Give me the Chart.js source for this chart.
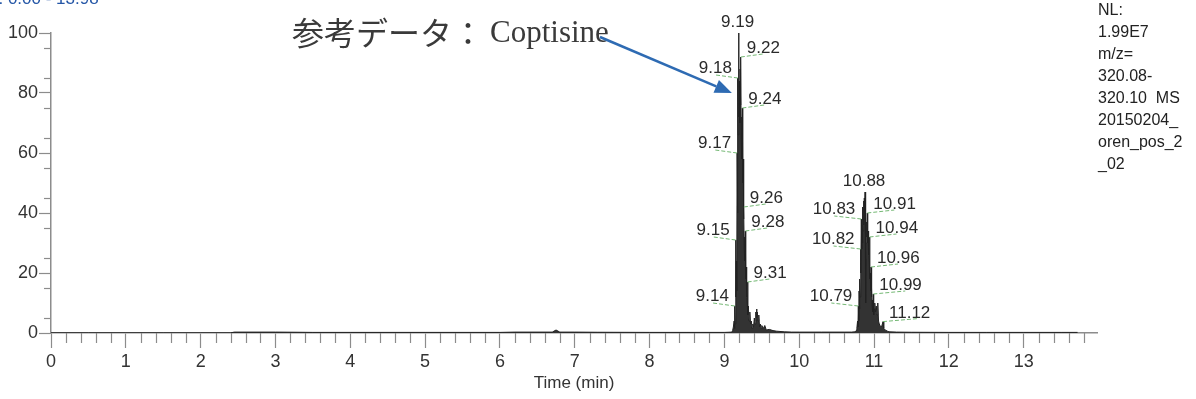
<!DOCTYPE html>
<html>
<head>
<meta charset="utf-8">
<script src="https://cdn.jsdelivr.net/npm/chart.js@4.4.1/dist/chart.umd.min.js"></script>
<style>
  html, body { margin: 0; padding: 0; background: #ffffff; overflow: hidden; }
  canvas { display: block; }
</style>
</head>
<body>
<canvas id="c" width="1196" height="399"></canvas>
<script>
// ---------------- data ----------------
const retentionTimes = [
  0.00, 0.50, 1.00, 1.50, 2.00, 2.40, 2.45, 3.00, 3.30, 3.50, 4.00, 5.00, 6.00, 6.20, 6.70, 6.75, 6.80, 7.00, 7.30, 8.00, 8.50, 9.00, 9.05,
  9.10, 9.11, 9.12, 9.13, 9.135, 9.14, 9.145, 9.15, 9.155, 9.16, 9.165, 9.17, 9.175, 9.18, 9.185, 9.19, 9.195,
  9.20, 9.205, 9.21, 9.215, 9.22, 9.225, 9.23, 9.235, 9.24, 9.245, 9.25, 9.255, 9.26, 9.265, 9.27, 9.275, 9.28,
  9.285, 9.29, 9.295, 9.30, 9.305, 9.31, 9.315, 9.32, 9.33, 9.34, 9.35, 9.36, 9.37, 9.38, 9.39, 9.40, 9.41, 9.42,
  9.425, 9.43, 9.435, 9.44, 9.45, 9.46, 9.47, 9.48, 9.49, 9.50, 9.52, 9.54, 9.56, 9.60, 9.65, 9.70, 9.80, 9.90,
  10.00, 10.30, 10.60, 10.70, 10.75, 10.76, 10.77, 10.78, 10.785, 10.79, 10.795, 10.80, 10.805, 10.81, 10.815,
  10.82, 10.825, 10.83, 10.835, 10.84, 10.845, 10.85, 10.855, 10.86, 10.865, 10.87, 10.875, 10.88, 10.885, 10.89,
  10.895, 10.90, 10.905, 10.91, 10.915, 10.92, 10.925, 10.93, 10.935, 10.94, 10.945, 10.95, 10.955, 10.96, 10.965,
  10.97, 10.975, 10.98, 10.985, 10.99, 10.995, 11.00, 11.01, 11.02, 11.03, 11.04, 11.05, 11.06, 11.07, 11.08,
  11.10, 11.12, 11.13, 11.15, 11.18, 11.20, 11.30, 11.50, 12.00, 12.50, 13.00, 13.50, 13.72
];
const relativeAbundance = [
  0.05, 0.05, 0.05, 0.05, 0.05, 0.05, 0.3, 0.3, 0.25, 0.2, 0.2, 0.2, 0.2, 0.3, 0.3, 1.0, 0.3, 0.3, 0.25, 0.2, 0.2, 0.2, 0.25,
  0.3, 0.8, 2, 4, 1.5, 9, 3, 31, 12, 24, 14, 60, 40, 85, 66, 100, 72,
  84, 70, 88, 76, 92, 64, 72, 58, 75, 50, 58, 38, 42, 28, 32, 24, 34,
  18, 22, 12, 14, 10, 17, 6, 9, 4, 7, 3, 4, 1.5, 3, 2, 5, 3, 7,
  4, 8, 5, 7, 4, 6, 2, 3, 1.5, 2.5, 1.5, 2.5, 1, 1.2, 0.8, 0.6, 0.4, 0.3,
  0.3, 0.3, 0.3, 0.3, 0.4, 0.8, 1.5, 4, 2, 9, 4, 14, 8, 18, 12,
  28, 20, 38, 28, 36, 30, 42, 34, 44, 36, 45, 40, 47, 14, 10,
  30, 37, 32, 40, 30, 34, 26, 29, 24, 32, 18, 20, 14, 22, 12,
  15, 9, 11, 7, 13, 6, 8, 10, 7, 9, 6, 10, 4, 3, 2.5,
  2, 3.8, 1.5, 1, 0.6, 0.4, 0.3, 0.25, 0.2, 0.2, 0.2, 0.2, 0.2
];
const peakLabelTimes = [9.19, 9.22, 9.18, 9.24, 9.17, 9.26, 9.15, 9.28, 9.31, 9.14,
                        10.88, 10.83, 10.91, 10.82, 10.94, 10.96, 10.99, 10.79, 11.12];
const xTickLabels = ['0','1','2','3','4','5','6','7','8','9','10','11','12','13'];
const yTickLabels = ['0','20','40','60','80','100'];
const infoLines = ['NL:', '1.99E7', 'm/z=', '320.08-', '320.10  MS', '20150204_', 'oren_pos_2', '_02'];
const headerText = 'RT: 0.00 - 13.98';
const annotationJa = '参考データ：';
const annotationEn = 'Coptisine';
const annotationTarget = [9.10, 80];

// ---------------- label layout (style, not data) ----------------
const labelSide = ['T','R','L','R','L','R','L','R','R','L',
                   'T','L','R','L','R','R','R','L','R'];
const labelLeader = [0,22,22,22,22,22,22,22,22,22,
                     0,27,27,27,27,27,32,27,35];

const FONT = '"Liberation Sans", Arial, sans-serif';
const points = retentionTimes.map((t, i) => ({ x: t, y: relativeAbundance[i] }));

function abundanceAt(t) {
  let best = 0, bd = 1e9;
  retentionTimes.forEach((rt, i) => { const d = Math.abs(rt - t); if (d < bd) { bd = d; best = i; } });
  return relativeAbundance[best];
}
const near = (v, arr) => arr.some(s => Math.abs(v - Number(s)) < 1e-6);

const overlay = {
  id: 'overlay',
  afterDraw(chart) {
    const ctx = chart.ctx, xs = chart.scales.x, ys = chart.scales.y;
    const bottom = ys.getPixelForValue(0), left = xs.getPixelForValue(0);
    ctx.save();
    // minor ticks
    ctx.strokeStyle = '#8c8c8c'; ctx.lineWidth = 1.2;
    for (let k = 1; k * 0.2 <= 13.9; k++) {
      const v = +(k * 0.2).toFixed(1);
      if (Math.abs(v - Math.round(v)) < 1e-6) continue;
      const px = Math.round(xs.getPixelForValue(v)) + 0.5;
      ctx.beginPath(); ctx.moveTo(px, bottom); ctx.lineTo(px, bottom + 10); ctx.stroke();
    }
    for (let v = 5; v < 100; v += 10) {
      const py = Math.round(ys.getPixelForValue(v)) + 0.5;
      ctx.beginPath(); ctx.moveTo(left, py); ctx.lineTo(left - 7, py); ctx.stroke();
    }
    // peak labels
    ctx.font = '17px ' + FONT;
    peakLabelTimes.forEach((t, i) => {
      const px = xs.getPixelForValue(t), py = ys.getPixelForValue(abundanceAt(t));
      const txt = t.toFixed(2), side = labelSide[i], len = labelLeader[i];
      ctx.fillStyle = '#2a2a2a';
      if (side === 'T') {
        ctx.textAlign = 'center'; ctx.textBaseline = 'alphabetic';
        ctx.fillText(txt, px - 1, py - 6);
        return;
      }
      const dir = side === 'R' ? 1 : -1;
      ctx.strokeStyle = '#74b874'; ctx.lineWidth = 1; ctx.setLineDash([4, 2]);
      ctx.beginPath(); ctx.moveTo(px, py); ctx.lineTo(px + dir * len, py - 3); ctx.stroke();
      ctx.setLineDash([]);
      ctx.textBaseline = 'alphabetic';
      if (side === 'R') { ctx.textAlign = 'left'; ctx.fillText(txt, px + 6, py - 4); }
      else { ctx.textAlign = 'right'; ctx.fillText(txt, px - 6, py - 5); }
    });
    // annotation text
    ctx.fillStyle = '#3a3a3a';
    ctx.textAlign = 'left'; ctx.textBaseline = 'middle';
    ctx.font = '32px "Noto Sans CJK JP", serif';
    ctx.fillText(annotationJa, 292, 33);
    ctx.font = '31px "Liberation Serif", serif';
    ctx.fillText(annotationEn, 490, 34);
    // arrow
    const tx = xs.getPixelForValue(annotationTarget[0]), ty = ys.getPixelForValue(annotationTarget[1]);
    const sx = 600, sy = 37;
    const ang = Math.atan2(ty - sy, tx - sx);
    const hl = 17, hw = 7;
    const bx = tx - hl * Math.cos(ang), by = ty - hl * Math.sin(ang);
    ctx.strokeStyle = '#2e6bb3'; ctx.fillStyle = '#2e6bb3'; ctx.lineWidth = 2.5;
    ctx.beginPath(); ctx.moveTo(sx, sy); ctx.lineTo(bx, by); ctx.stroke();
    ctx.beginPath();
    ctx.moveTo(tx, ty);
    ctx.lineTo(bx + hw * Math.sin(ang), by - hw * Math.cos(ang));
    ctx.lineTo(bx - hw * Math.sin(ang), by + hw * Math.cos(ang));
    ctx.closePath(); ctx.fill();
    // header (clipped at top)
    ctx.fillStyle = '#2456a6'; ctx.font = '17px ' + FONT;
    ctx.textAlign = 'left'; ctx.textBaseline = 'alphabetic';
    ctx.fillText(headerText, -22, 4);
    // info block
    ctx.fillStyle = '#222222'; ctx.font = '16px ' + FONT;
    ctx.textBaseline = 'middle';
    infoLines.forEach((s, i) => ctx.fillText(s, 1098, 11 + i * 22));
    ctx.restore();
  }
};

new Chart(document.getElementById('c'), {
  type: 'line',
  data: {
    datasets: [{
      data: points,
      borderColor: '#222222',
      backgroundColor: '#333333',
      borderWidth: 1,
      pointRadius: 0,
      tension: 0,
      fill: 'origin'
    }]
  },
  options: {
    responsive: false,
    animation: false,
    devicePixelRatio: 1,
    layout: { padding: { left: 0, right: 99, top: 33, bottom: 0 } },
    plugins: { legend: { display: false }, tooltip: { enabled: false } },
    scales: {
      x: {
        type: 'linear', min: 0, max: 13.98,
        afterFit: s => { s.height = 66; },
        border: { color: '#8c8c8c', width: 1.5 },
        grid: {
          drawOnChartArea: false, tickLength: 15, tickWidth: 1.2,
          tickColor: c => (c.tick && near(c.tick.value, xTickLabels)) ? '#8c8c8c' : 'rgba(0,0,0,0)'
        },
        ticks: {
          stepSize: 0.2, autoSkip: false, maxRotation: 0, padding: 3,
          color: '#333333', font: { family: FONT, size: 18 },
          callback: v => near(v, xTickLabels) ? String(Math.round(v)) : ''
        },
        title: { display: true, text: 'Time (min)', color: '#333333',
                 font: { family: FONT, size: 17 }, padding: { top: 0, bottom: 5 } }
      },
      y: {
        min: 0, max: 100,
        afterFit: s => { s.width = 51; },
        border: { color: '#8c8c8c', width: 1.5 },
        grid: {
          drawOnChartArea: false, tickLength: 12, tickWidth: 1.2,
          tickColor: c => (c.tick && near(c.tick.value, yTickLabels)) ? '#8c8c8c' : 'rgba(0,0,0,0)'
        },
        ticks: {
          stepSize: 5, autoSkip: false, padding: 1,
          color: '#333333', font: { family: FONT, size: 18 },
          callback: v => near(v, yTickLabels) ? String(v) : ''
        }
      }
    }
  },
  plugins: [overlay]
});
</script>
</body>
</html>
